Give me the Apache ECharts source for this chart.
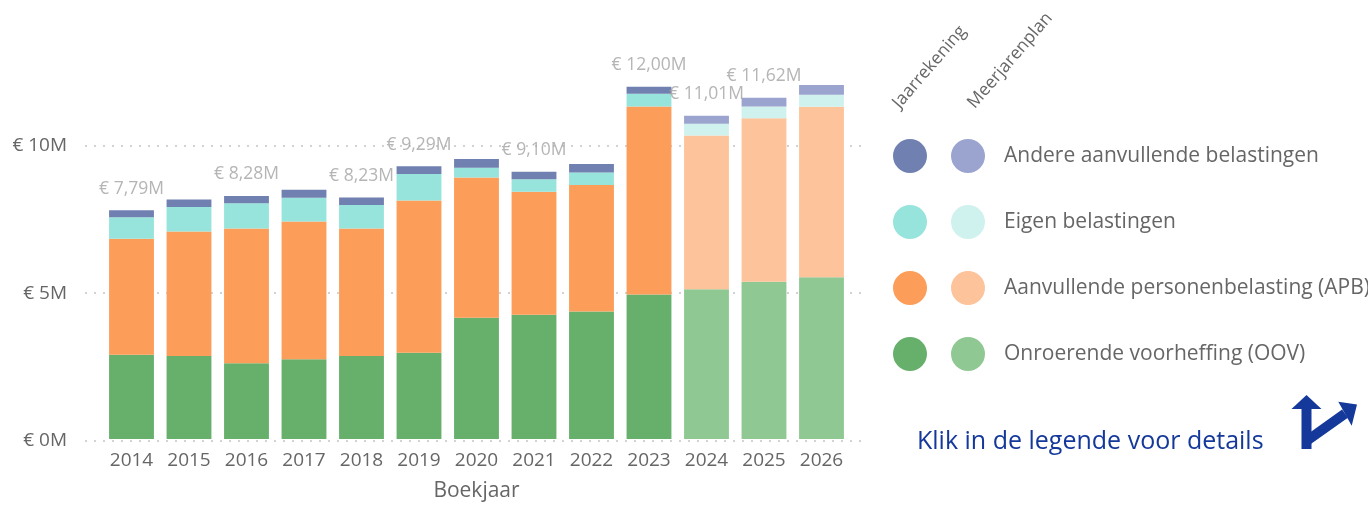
<!DOCTYPE html>
<html>
<head>
<meta charset="utf-8">
<script src="https://cdn.jsdelivr.net/npm/echarts@6/dist/echarts.min.js"></script>
<style>
html,body{margin:0;padding:0;background:#fff;}
#chart{width:1368px;height:507px;}
</style>
</head>
<body>
<div id="chart"></div>
<script>
// ---- data (values in € million) ----
const years = ['2014','2015','2016','2017','2018','2019','2020','2021','2022','2023','2024','2025','2026'];
const planYears = ['2024','2025','2026'];
const oov    = [2.87, 2.83, 2.58, 2.72, 2.83, 2.94, 4.13, 4.23, 4.34, 4.92, 5.10, 5.36, 5.51];
const apb    = [3.95, 4.24, 4.59, 4.69, 4.34, 5.18, 4.78, 4.19, 4.31, 6.41, 5.24, 5.57, 5.81];
const eigen  = [0.73, 0.83, 0.86, 0.81, 0.80, 0.91, 0.33, 0.43, 0.43, 0.43, 0.40, 0.40, 0.41];
const andere = [0.24, 0.26, 0.25, 0.27, 0.26, 0.26, 0.30, 0.25, 0.29, 0.24, 0.27, 0.29, 0.33];
const totalLabels = [7.79, null, 8.28, null, 8.23, 9.29, null, 9.10, null, 12.00, 11.01, 11.62, null];
const yTicks = [0, 5, 10];
const seriesNames = ['Andere aanvullende belastingen', 'Eigen belastingen', 'Aanvullende personenbelasting (APB)', 'Onroerende voorheffing (OOV)'];
const headerJaar = 'Jaarrekening';
const headerPlan = 'Meerjarenplan';
const hintText = 'Klik in de legende voor details';
const axisName = 'Boekjaar';

// ---- styling ----
const FONT = "'Segoe UI', 'Open Sans', 'Noto Sans', sans-serif";
const colJaar = ['#7080B0', '#96E4DC', '#FC9D5A', '#66B06C'];
const colPlan = ['#9AA4CE', '#CFF2EE', '#FDC39B', '#8FC893'];
const comps = [andere, eigen, apb, oov];

const isPlan = y => planYears.indexOf(y) >= 0;
const series = [];
// stack from bottom: OOV, APB, Eigen, Andere
for (let k = 3; k >= 0; k--) {
  series.push({
    name: 'J|' + seriesNames[k], type: 'bar', stack: 'tot', xAxisIndex: 0, yAxisIndex: 0,
    barCategoryGap: '22%', itemStyle: { color: colJaar[k] },
    data: comps[k].map((v, i) => isPlan(years[i]) ? '-' : v)
  });
  series.push({
    name: seriesNames[k], type: 'bar', stack: 'tot', xAxisIndex: 0, yAxisIndex: 0,
    barCategoryGap: '22%', itemStyle: { color: colPlan[k] },
    data: comps[k].map((v, i) => isPlan(years[i]) ? v : '-')
  });
}
series.push({
  type: 'scatter', xAxisIndex: 0, yAxisIndex: 0, symbolSize: 1, silent: true,
  itemStyle: { color: 'rgba(0,0,0,0)' },
  data: totalLabels.map(v => v == null ? '-' : v),
  label: {
    show: true, position: 'top', distance: 12, color: '#a3a3a3', fontSize: 17.5, fontFamily: FONT,
    formatter: p => '€ ' + p.value.toFixed(2).replace('.', ',') + 'M'
  }
});
series.push({ type: 'scatter', xAxisIndex: 1, yAxisIndex: 1, data: [] });

const chart = echarts.init(document.getElementById('chart'), null, { renderer: 'canvas' });
const navy = '#15399A';
chart.setOption({
  animation: false,
  textStyle: { fontFamily: FONT },
  grid: [
    { left: 102.75, right: 517.75, top: 28, bottom: 66.5 },
    { left: 85, right: 506, top: 28, bottom: 66.5 }
  ],
  xAxis: [
    {
      type: 'category', data: years, gridIndex: 0,
      axisLine: { show: false }, axisTick: { show: false },
      axisLabel: { color: '#666', fontSize: 19, margin: 12 },
      name: axisName, nameLocation: 'middle', nameGap: 42,
      nameTextStyle: { color: '#666', fontSize: 21 }
    },
    { type: 'value', gridIndex: 1, min: 0, max: 1, show: false }
  ],
  yAxis: [
    { type: 'value', gridIndex: 0, min: 0, max: 14, show: false, splitLine: { show: false } },
    {
      type: 'value', gridIndex: 1, min: 0, max: 14, interval: 5,
      axisLine: { show: false }, axisTick: { show: false },
      axisLabel: {
        color: '#666', fontSize: 19, margin: 18, showMaxLabel: false,
        formatter: v => yTicks.indexOf(v) >= 0 ? '€ ' + v + 'M' : ''
      },
      splitLine: { show: true, showMaxLine: false, lineStyle: { color: '#c4c4c4', type: [2, 7], width: 1.5 } }
    }
  ],
  legend: [
    {
      orient: 'vertical', left: 893, top: 139, padding: 0, itemGap: 32,
      itemWidth: 34, itemHeight: 34, icon: 'circle',
      data: seriesNames.map(n => 'J|' + n), formatter: () => '',
      selectedMode: false
    },
    {
      orient: 'vertical', left: 951, top: 139, padding: 0, itemGap: 32,
      itemWidth: 34, itemHeight: 34, icon: 'circle',
      data: seriesNames.slice(),
      textStyle: { color: '#666', fontSize: 21, padding: [0, 0, 0, 14] },
      selectedMode: false
    }
  ],
  graphic: [
    { type: 'text', x: 896, y: 106, rotation: 0.86,
      style: { text: headerJaar, fill: '#666', font: '17.5px ' + FONT, textAlign: 'left', textVerticalAlign: 'middle' } },
    { type: 'text', x: 971, y: 106, rotation: 0.86,
      style: { text: headerPlan, fill: '#666', font: '17.5px ' + FONT, textAlign: 'left', textVerticalAlign: 'middle' } },
    { type: 'text', x: 917, y: 442,
      style: { text: hintText, fill: navy, font: '25px ' + FONT, textAlign: 'left', textVerticalAlign: 'middle' } },
    { type: 'line', shape: { x1: 1306.5, y1: 449, x2: 1306.5, y2: 406 }, style: { stroke: navy, lineWidth: 10 } },
    { type: 'polygon', shape: { points: [[1291.5, 409], [1306.5, 395], [1321.5, 409]] }, style: { fill: navy } },
    { type: 'line', shape: { x1: 1306.5, y1: 441, x2: 1345, y2: 413.7 }, style: { stroke: navy, lineWidth: 10 } },
    { type: 'polygon', shape: { points: [[1338.3, 401.7], [1357, 404.5], [1351.7, 425.7]] }, style: { fill: navy } }
  ],
  series: series
});
</script>
</body>
</html>
